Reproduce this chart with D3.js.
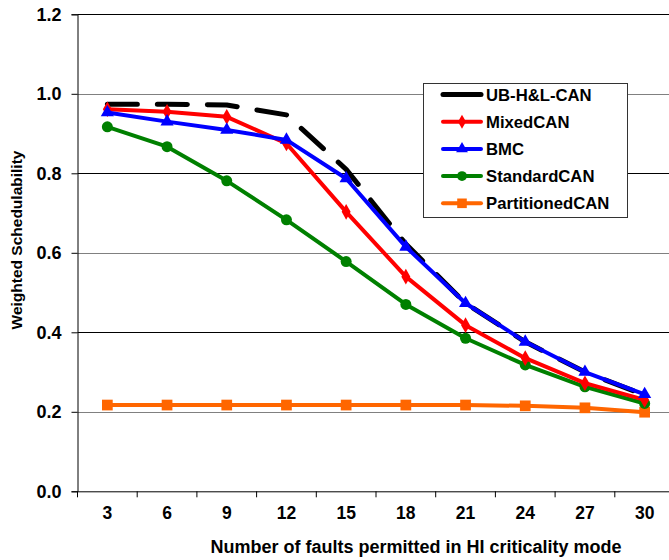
<!DOCTYPE html>
<html><head><meta charset="utf-8">
<script src="https://cdn.jsdelivr.net/npm/d3@7"></script>
<style>body{margin:0;background:#fff}svg{display:block}text{font-family:Arial,"Liberation Sans",sans-serif;font-weight:bold}</style>
</head><body><svg id="c" width="669" height="560"></svg>
<script>
const categories = [3,6,9,12,15,18,21,24,27,30];
const yTicks = [0,0.2,0.4,0.6,0.8,1.0,1.2];
const ubHL = [0.974,0.974,0.972,0.947,0.810,0.622,0.473,0.376,0.300,0.242];
const mixedCAN = [0.961,0.955,0.942,0.875,0.703,0.540,0.418,0.335,0.272,0.230];
const bmc = [0.953,0.930,0.909,0.884,0.787,0.615,0.473,0.376,0.300,0.244];
const standardCAN = [0.917,0.867,0.781,0.683,0.578,0.470,0.385,0.318,0.263,0.221];
const partitionedCAN = [0.217,0.217,0.217,0.217,0.217,0.217,0.217,0.215,0.210,0.199];

const svg = d3.select('#c');
const L=77.5, R=674.5, T=14.3, B=491.3;
const x = d3.scaleBand().domain(categories).range([L,R]);
const y = d3.scaleLinear().domain([0,1.2]).range([B,T]);
const cx = d => x(d)+x.bandwidth()/2;

// gridlines
svg.append('g').selectAll('line').data(yTicks.filter(v=>v>0)).join('line')
  .attr('x1',L).attr('x2',669).attr('y1',d=>Math.round(y(d))+0.5).attr('y2',d=>Math.round(y(d))+0.5)
  .attr('stroke',(d,i)=> (i%2===1)?'#000':'#808080').attr('stroke-width',1);

// axes
const ya = svg.append('g').attr('transform',`translate(${L},0)`)
  .call(d3.axisLeft(y).tickValues(yTicks).tickFormat(d3.format('.1f')).tickSizeOuter(0).tickSize(6).tickPadding(10));
ya.selectAll('text').attr('font-size',18).attr('fill','#000').attr('font-family','Arial, Liberation Sans, sans-serif');
ya.selectAll('line,path').attr('stroke','#000');

const xa = svg.append('g').attr('transform',`translate(0,${B})`)
  .call(d3.axisBottom(x).tickSize(0).tickPadding(15));
xa.selectAll('text').attr('font-size',17.5).attr('fill','#000').attr('font-family','Arial, Liberation Sans, sans-serif');
xa.select('path').attr('stroke','#000');
// band-boundary ticks
xa.append('g').selectAll('line').data(categories).join('line')
  .attr('x1',d=>x(d)).attr('x2',d=>x(d)).attr('y1',0).attr('y2',6).attr('stroke','#000');

// labels
svg.append('text').attr('x',416).attr('y',553).attr('text-anchor','middle').attr('font-size',18).text('Number of faults permitted in HI criticality mode');
svg.append('text').attr('transform','translate(22,240) rotate(-90)').attr('text-anchor','middle').attr('font-size',15.5).text('Weighted Schedulability');

const line = d3.line().x((d,i)=>cx(categories[i])).y(d=>y(d));
const series = [
  {name:'PartitionedCAN', vals:partitionedCAN, color:'#FF6600', m:'square'},
  {name:'StandardCAN', vals:standardCAN, color:'#008000', m:'circle'},
  {name:'UB-H&L-CAN', vals:ubHL, color:'#000', m:null, dash:true},
  {name:'MixedCAN', vals:mixedCAN, color:'#FF0000', m:'diamond'},
  {name:'BMC', vals:bmc, color:'#0000FF', m:'triangle'},
];
const sym = {square:[d3.symbolSquare,115], circle:[d3.symbolCircle,95], diamond:[d3.symbolDiamond,70], triangle:[d3.symbolTriangle,75]};
series.forEach(s=>{
  const g = svg.append('g');
  g.append('path').attr('d',line(s.vals)).attr('fill','none').attr('stroke',s.color)
    .attr('stroke-width',s.dash?5:4).attr('stroke-dasharray',s.dash?'30,20':null).attr('stroke-linecap',s.dash?'round':'butt').attr('stroke-linejoin','round');
  if(s.m){
    g.selectAll('path.m').data(s.vals).join('path').attr('class','m')
      .attr('transform',(d,i)=>`translate(${cx(categories[i])},${y(d)})`)
      .attr('d',d3.symbol().type(sym[s.m][0]).size(sym[s.m][1])).attr('fill',s.color);
  }
});

// legend
const leg = svg.append('g');
leg.append('rect').attr('x',423.5).attr('y',83.5).attr('width',204).attr('height',134).attr('fill','#fff').attr('stroke','#333').attr('stroke-width',1);
const legOrder = ['UB-H&L-CAN','MixedCAN','BMC','StandardCAN','PartitionedCAN'];
legOrder.forEach((n,i)=>{
  const s = series.find(t=>t.name===n);
  const yy = 94.5 + i*27.2;
  leg.append('line').attr('x1',443).attr('x2',481).attr('y1',yy).attr('y2',yy).attr('stroke',s.color).attr('stroke-width',s.dash?5:4).attr('stroke-linecap','round');
  if(s.m) leg.append('path').attr('transform',`translate(462,${yy})`).attr('d',d3.symbol().type(sym[s.m][0]).size(sym[s.m][1]*0.8)).attr('fill',s.color);
  leg.append('text').attr('x',486).attr('y',yy+6).attr('font-size',16.7).text(n);
});
</script></body></html>
